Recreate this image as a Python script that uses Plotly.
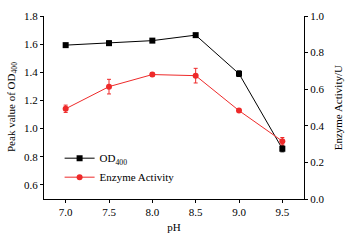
import plotly.graph_objects as go

ph = [7.0, 7.5, 8.0, 8.5, 9.0, 9.5]
od400 = [1.593, 1.607, 1.625, 1.664, 1.39, 0.857]
od400_err = [0.012, 0.015, 0.008, 0.008, 0.02, 0.022]
enzyme = [0.493, 0.614, 0.68, 0.674, 0.483, 0.316]
enzyme_err = [0.02, 0.04, 0.01, 0.04, 0.006, 0.02]

x_ticks = [7.0, 7.5, 8.0, 8.5, 9.0, 9.5]
left_ticks = [0.6, 0.8, 1.0, 1.2, 1.4, 1.6, 1.8]
right_ticks = [0.0, 0.2, 0.4, 0.6, 0.8, 1.0]

font_family = "'Liberation Serif', 'Times New Roman', serif"

fig = go.Figure()
fig.add_trace(go.Scatter(
    x=ph, y=od400, name="OD<sub>400</sub>", mode="lines+markers",
    line=dict(color="black", width=1),
    marker=dict(symbol="square", size=6, color="black"),
    error_y=dict(type="data", array=od400_err, color="black", thickness=1, width=2),
    yaxis="y",
))
fig.add_trace(go.Scatter(
    x=ph, y=enzyme, name="Enzyme Activity", mode="lines+markers",
    line=dict(color="#ee2a2a", width=1),
    marker=dict(symbol="circle", size=6, color="#ee2a2a"),
    error_y=dict(type="data", array=enzyme_err, color="#ee2a2a", thickness=1, width=2),
    yaxis="y2",
))

axis_common = dict(
    showline=True, linecolor="black", linewidth=1,
    ticks="outside", ticklen=3, tickcolor="black", tickwidth=1,
    showgrid=False, zeroline=False,
    tickfont=dict(family=font_family, size=11, color="black"),
)

fig.update_layout(
    width=349, height=242,
    margin=dict(l=44, r=45, t=10, b=40),
    paper_bgcolor="white", plot_bgcolor="white",
    font=dict(family=font_family, size=11, color="black"),
    xaxis=dict(range=[6.75, 9.75], tickvals=x_ticks, tickformat=".1f",
               title=dict(text="pH", font=dict(family=font_family, size=11), standoff=6),
               **axis_common),
    yaxis=dict(range=[0.5, 1.8], tickvals=left_ticks, tickformat=".1f",
               **axis_common),
    yaxis2=dict(range=[0.0, 1.0], tickvals=right_ticks, tickformat=".1f",
                overlaying="y", side="right",
                **axis_common),
    legend=dict(x=0.06, y=0.04, xanchor="left", yanchor="bottom",
                bgcolor="rgba(0,0,0,0)", font=dict(family=font_family, size=11, color="black"),
                tracegroupgap=0, itemwidth=30),
    showlegend=True,
    annotations=[
        dict(text="Peak value of OD<sub>400</sub>", xref="paper", yref="paper",
             x=-0.125, y=0.5, xanchor="center", yanchor="middle", textangle=-90,
             showarrow=False, font=dict(family=font_family, size=11)),
        dict(text="Enzyme Activity/U", xref="paper", yref="paper",
             x=1.13, y=0.5, xanchor="center", yanchor="middle", textangle=-90,
             showarrow=False, font=dict(family=font_family, size=11)),
    ],
)

fig.write_html("out.html", config={"displayModeBar": False},
               post_script="document.body.style.margin='0';")
